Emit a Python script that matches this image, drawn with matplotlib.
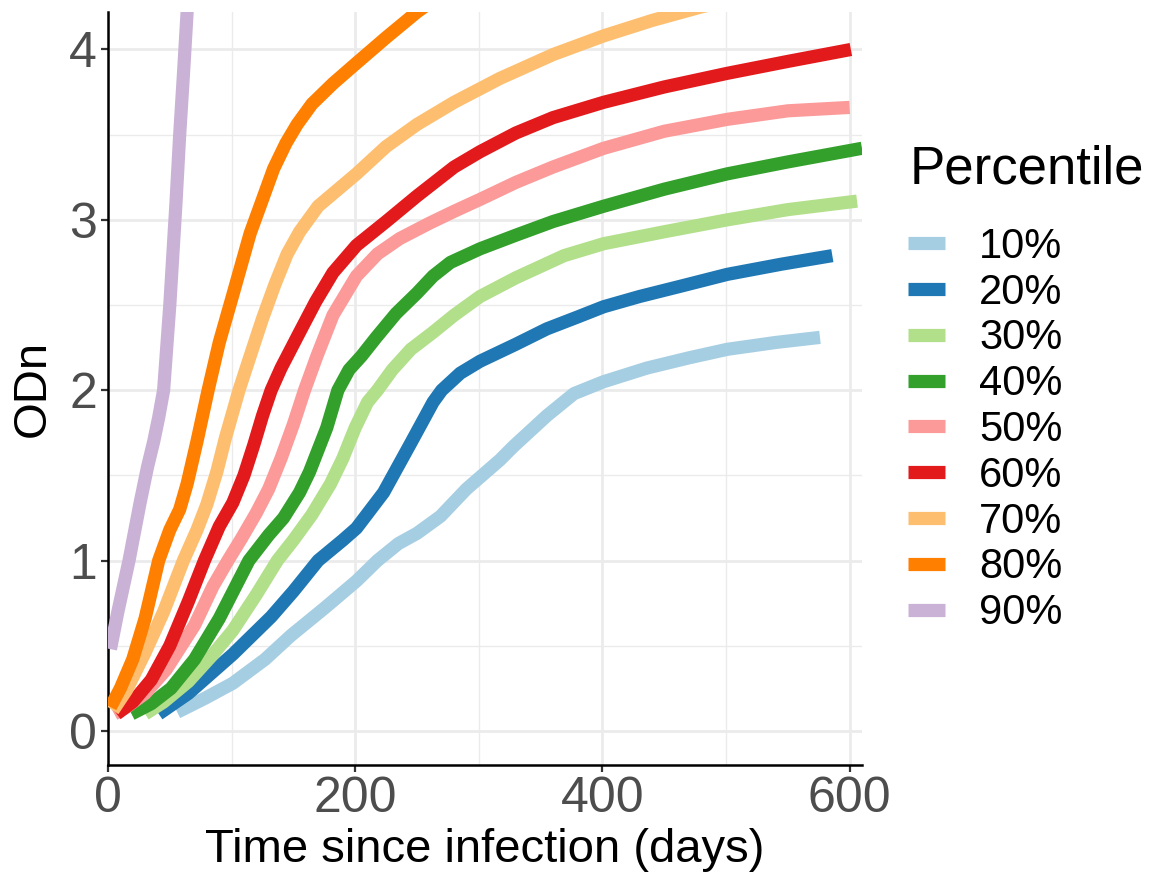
import matplotlib
matplotlib.use("Agg")
import matplotlib.pyplot as plt
from matplotlib.ticker import MultipleLocator

plt.rcParams['font.family'] = ['Liberation Sans', 'DejaVu Sans']

labels = ["10%", "20%", "30%", "40%", "50%", "60%", "70%", "80%", "90%"]
colors = ["#A6CEE3", "#1F78B4", "#B2DF8A", "#33A02C", "#FB9A99",
          "#E31A1C", "#FDBF6F", "#FF7F00", "#CAB2D6"]

p10_t = [56, 78, 101, 127, 148, 175, 201, 218, 235, 250, 269, 290, 317, 328, 355, 377, 401, 436, 470, 501, 540, 576]
p10_v = [0.11, 0.19, 0.28, 0.42, 0.56, 0.72, 0.88, 1.00, 1.10, 1.16, 1.26, 1.42, 1.59, 1.67, 1.85, 1.98, 2.05, 2.13, 2.19, 2.24, 2.28, 2.31]

p20_t = [41, 65, 101, 132, 150, 170, 190, 201, 223, 245, 263, 270, 285, 301, 330, 355, 380, 401, 430, 463, 501, 545, 586]
p20_v = [0.10, 0.22, 0.45, 0.67, 0.82, 1.00, 1.12, 1.19, 1.40, 1.69, 1.93, 2.00, 2.10, 2.17, 2.27, 2.36, 2.43, 2.49, 2.55, 2.61, 2.68, 2.74, 2.79]

p30_t = [30, 45, 65, 85, 101, 120, 137, 150, 165, 180, 190, 200, 210, 218, 230, 245, 263, 280, 301, 330, 369, 401, 450, 501, 550, 606]
p30_v = [0.10, 0.17, 0.29, 0.45, 0.59, 0.80, 1.00, 1.12, 1.27, 1.45, 1.60, 1.78, 1.93, 2.00, 2.12, 2.24, 2.34, 2.44, 2.55, 2.66, 2.79, 2.86, 2.93, 3.00, 3.06, 3.11]

p40_t = [19, 35, 51, 70, 90, 114, 130, 142, 155, 163, 170, 177, 186, 195, 205, 217, 233, 250, 263, 277, 301, 330, 360, 401, 450, 501, 550, 610]
p40_v = [0.10, 0.16, 0.25, 0.42, 0.66, 1.00, 1.15, 1.25, 1.40, 1.52, 1.65, 1.78, 2.00, 2.12, 2.20, 2.31, 2.45, 2.57, 2.67, 2.75, 2.83, 2.91, 2.99, 3.08, 3.18, 3.27, 3.34, 3.42]

p50_t = [5, 15, 30, 47, 70, 85, 97, 108, 120, 130, 140, 150, 159, 169, 182, 201, 218, 236, 260, 280, 301, 330, 360, 401, 450, 501, 550, 600]
p50_v = [0.10, 0.14, 0.22, 0.36, 0.62, 0.85, 1.00, 1.13, 1.28, 1.42, 1.60, 1.80, 2.00, 2.20, 2.44, 2.67, 2.80, 2.89, 2.98, 3.05, 3.12, 3.22, 3.31, 3.42, 3.52, 3.59, 3.64, 3.66]

p60_t = [7, 20, 35, 50, 65, 78, 90, 101, 110, 118, 125, 132, 140, 155, 168, 182, 201, 225, 250, 280, 301, 330, 360, 401, 450, 501, 550, 601]
p60_v = [0.10, 0.17, 0.30, 0.50, 0.76, 1.00, 1.20, 1.34, 1.50, 1.68, 1.85, 2.00, 2.13, 2.34, 2.52, 2.69, 2.85, 2.99, 3.14, 3.31, 3.40, 3.51, 3.60, 3.69, 3.78, 3.86, 3.93, 4.00]

p70_t = [4, 15, 30, 45, 61, 72, 80, 88, 95, 106, 115, 125, 135, 145, 155, 170, 201, 225, 250, 280, 317, 360, 401, 440, 480, 520]
p70_v = [0.12, 0.24, 0.46, 0.70, 1.00, 1.18, 1.33, 1.52, 1.72, 2.00, 2.20, 2.42, 2.62, 2.80, 2.93, 3.08, 3.27, 3.43, 3.56, 3.69, 3.83, 3.97, 4.08, 4.17, 4.25, 4.32]

p80_t = [2, 10, 20, 30, 41, 50, 58, 64, 72, 81, 90, 101, 115, 125, 134, 144, 153, 165, 182, 201, 225, 250, 275]
p80_v = [0.14, 0.25, 0.42, 0.66, 1.00, 1.18, 1.30, 1.45, 1.70, 2.00, 2.28, 2.56, 2.92, 3.12, 3.30, 3.45, 3.56, 3.68, 3.80, 3.92, 4.07, 4.22, 4.35]

p90_t = [2, 8, 17, 26, 32, 37, 41, 45, 50, 55, 58, 61, 64, 67]
p90_v = [0.48, 0.70, 1.00, 1.34, 1.55, 1.70, 1.84, 2.00, 2.50, 3.10, 3.50, 3.85, 4.22, 4.50]

series_t = [p10_t, p20_t, p30_t, p40_t, p50_t, p60_t, p70_t, p80_t, p90_t]
series_v = [p10_v, p20_v, p30_v, p40_v, p50_v, p60_v, p70_v, p80_v, p90_v]

W, H = 1155, 875
fig = plt.figure(figsize=(W / 100, H / 100), dpi=100)
ax = fig.add_axes([108 / W, 1 - 765 / H, (862 - 108) / W, (765 - 12) / H])

for t, v, c, lab in zip(series_t, series_v, colors, labels):
    ax.plot(t, v, color=c, lw=9.5, solid_capstyle='butt', solid_joinstyle='round', label=lab, zorder=3)

ax.set_xlim(0, 610)
ax.set_ylim(-0.2, 4.22)
ax.xaxis.set_major_locator(MultipleLocator(200))
ax.xaxis.set_minor_locator(MultipleLocator(100))
ax.yaxis.set_major_locator(MultipleLocator(1))
ax.yaxis.set_minor_locator(MultipleLocator(0.5))
ax.grid(which='major', color='#EBEBEB', lw=2.0, zorder=0)
ax.grid(which='minor', color='#EBEBEB', lw=1.0, zorder=0)
ax.set_axisbelow(True)

for s in ['top', 'right']:
    ax.spines[s].set_visible(False)
for s in ['left', 'bottom']:
    ax.spines[s].set_color('black')
    ax.spines[s].set_linewidth(1.8)

ax.tick_params(which='major', length=5, width=1.6, color='#333333', labelcolor='#4D4D4D', labelsize=36, pad=3)
ax.tick_params(which='minor', length=0)

ax.set_xlabel("Time since infection (days)", fontsize=34, color='black', labelpad=4)
ax.set_ylabel("ODn", fontsize=34, color='black', labelpad=10)

leg = ax.legend(loc='upper left', bbox_to_anchor=(891 / W, 1 - 210 / H),
                bbox_transform=fig.transFigure,
                frameon=False, fontsize=30,
                handlelength=0.9, handletextpad=0.82, labelspacing=0.14,
                borderaxespad=0)
fig.text(910 / W, 1 - 170 / H, "Percentile", fontsize=38, ha='left', va='center', color='black')

fig.savefig("out.png", dpi=100)
